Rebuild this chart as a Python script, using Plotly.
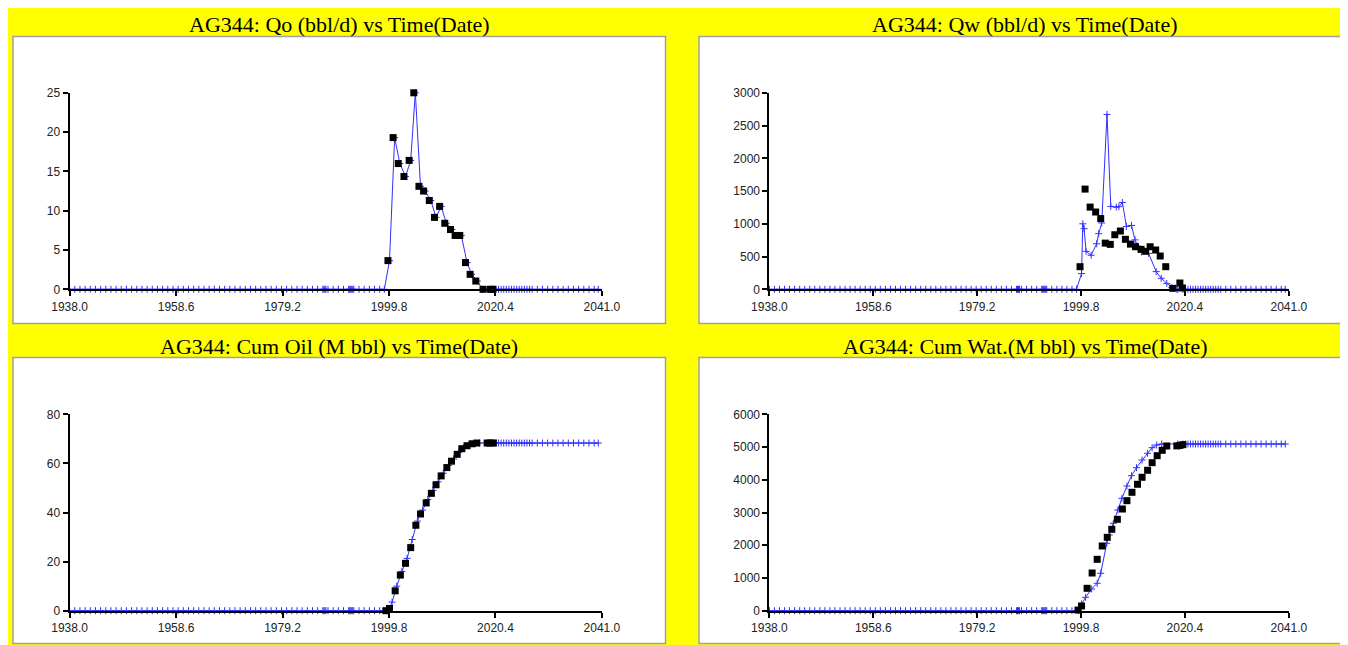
import plotly.graph_objects as go

# the page body keeps its default 8px margin, so the figure starts at (8, 8)
PAGE_OFFSET = 8
W, H = 1348 - PAGE_OFFSET, 645 - PAGE_OFFSET
YELLOW = "#ffff00"
SIM_BLUE = "#3030ff"
BOX_EDGE = "#a0a0a0"
TITLE_FONT = {"family": "Liberation Serif, Times New Roman, serif", "size": 22, "color": "black"}
TICK_FONT = {"family": "Liberation Sans, Arial, sans-serif", "size": 12, "color": "#222222"}

X_TICKS = [1938.0, 1958.6, 1979.2, 1999.8, 2020.4, 2041.0]
X_LABELS = ["1938.0", "1958.6", "1979.2", "1999.8", "2020.4", "2041.0"]

# simulation output before production starts (all zero) and after it ends (flat)
PRE_T = [
    1938, 1939, 1940, 1941, 1942, 1943, 1944, 1945, 1946, 1947, 1948, 1949,
    1950, 1951, 1952, 1953, 1954, 1955, 1956, 1957, 1958, 1959, 1960, 1961,
    1962, 1963, 1964, 1965, 1966, 1967, 1968, 1969, 1970, 1971, 1972, 1973,
    1974, 1975, 1976, 1977, 1978, 1979, 1980, 1981, 1982, 1983, 1984, 1985,
    1986, 1987, 1987.2, 1987.4, 1987.6, 1988, 1989, 1990, 1991, 1992, 1992.2,
    1992.4, 1992.6, 1992.8, 1993, 1994, 1995, 1996, 1997, 1998,
]
POST_T = [
    2019, 2020, 2020.5, 2021, 2021.5, 2022, 2022.5, 2023, 2023.5, 2024, 2024.5,
    2025, 2025.5, 2026, 2026.5, 2027, 2027.5, 2028.5, 2029.5, 2030.5, 2031.5,
    2032.5, 2033.5, 2034.5, 2035.5, 2036.5, 2037.5, 2038.5, 2039.5, 2040.3,
]

# observed (history) data
OBS_RATE_T = [
    1999.6, 2000.6, 2001.6, 2002.7, 2003.7, 2004.6, 2005.6, 2006.5, 2007.6, 2008.6, 2009.6,
    2010.6, 2011.7, 2012.6, 2013.5, 2014.6, 2015.5, 2016.6, 2018.0, 2019.4, 2019.9,
]
OBS_QO = [3.65, 19.3, 16.0, 14.35, 16.4, 25.0, 13.1, 12.5, 11.3, 9.15, 10.55,
          8.4, 7.6, 6.85, 6.85, 3.4, 1.9, 1.05, 0.0, 0.0, 0.0]
OBS_QW = [345, 1530, 1255, 1180, 1080, 705, 686, 833, 890, 763, 690,
          650, 610, 580, 650, 600, 508, 345, 15, 96, 20]

OBS_CUM_T = [
    1999.2, 1999.9, 2001.0, 2002.0, 2003.0, 2004.0, 2005.0, 2005.9, 2007.0, 2008.0, 2008.9,
    2009.9, 2011.0, 2011.9, 2013.0, 2013.9, 2014.9, 2015.9, 2016.8, 2018.8, 2019.4, 2020.0,
]
OBS_CUM_OIL = [0.0, 0.9, 8.1, 14.5, 19.3, 25.7, 34.8, 39.4, 43.9, 47.8, 51.3,
               54.9, 58.3, 60.9, 63.7, 66.0, 67.2, 68.0, 68.3, 68.3, 68.3, 68.3]
OBS_CUM_WAT = [20, 144, 684, 1152, 1570, 1977, 2242, 2487, 2792, 3107, 3361,
               3617, 3862, 4076, 4290, 4522, 4736, 4900, 5032, 5035, 5050, 5072]

# simulated data during the producing period
SIM_QO_T = [1998.9, 1999.9, 2000.9, 2001.9, 2003.0, 2004.0, 2004.9, 2005.9, 2006.8, 2007.9,
            2008.9, 2009.9, 2010.9, 2012.0, 2012.9, 2013.8, 2014.9, 2015.8, 2016.9, 2017.9]
SIM_QO = [0.0, 3.65, 19.3, 16.0, 14.35, 16.4, 25.0, 13.1, 12.5, 11.3,
          9.15, 10.55, 8.4, 7.6, 6.85, 6.85, 3.4, 1.9, 1.05, 0.0]

SIM_QW_T = [1998.9, 1999.9, 2000.15, 2000.4, 2000.8, 2001.8, 2002.9, 2003.3, 2003.9, 2004.95,
            2005.7, 2006.8, 2007.3, 2008.0, 2008.8, 2009.8, 2010.5, 2011.0, 2011.8, 2013.2,
            2014.7, 2015.7, 2016.8, 2017.8, 2018.8]
SIM_QW = [0, 240, 1000, 925, 580, 520, 695, 850, 1012, 2670,
          1265, 1255, 1262, 1325, 960, 975, 755, 660, 570, 548,
          270, 168, 90, 25, 0]

SIM_CUM_OIL_T = [1999.7, 2000.4, 2001.3, 2002.3, 2003.3, 2004.3, 2005.3, 2006.3, 2007.3, 2008.3,
                 2009.3, 2010.3, 2011.3, 2012.3, 2013.3, 2014.3, 2015.3, 2016.3, 2017.3]
SIM_CUM_OIL = [0.0, 3.5, 10.0, 16.0, 21.3, 29.0, 36.5, 41.0, 45.3, 49.0,
               52.5, 56.0, 59.2, 61.8, 64.5, 66.5, 67.6, 68.1, 68.3]

SIM_CUM_WAT_T = [1999.25, 1999.9, 2000.7, 2001.9, 2003.0, 2003.7, 2004.9, 2005.4, 2006.2, 2007.1,
                 2007.9, 2008.9, 2009.8, 2010.8, 2011.9, 2013.0, 2013.9, 2014.8, 2015.8]
SIM_CUM_WAT = [0, 205, 409, 663, 837, 1143, 2059, 2313, 2670, 3077,
               3434, 3810, 4125, 4370, 4604, 4809, 4980, 5062, 5093]

# positions below are screen pixels of the 1348x645 window
PANELS = [
    {"title": "AG344: Qo (bbl/d) vs Time(Date)", "obs_t": OBS_RATE_T, "obs": OBS_QO,
     "sim_t": SIM_QO_T, "sim": SIM_QO, "sim_end": 0.0, "yticks": [0, 5, 10, 15, 20, 25],
     "box": (13, 36.5, 665.5, 323.5), "plot": (69.6, 92.8, 601.9, 289.3), "title_xy": (339.2, 24)},
    {"title": "AG344: Qw (bbl/d) vs Time(Date)", "obs_t": OBS_RATE_T, "obs": OBS_QW,
     "sim_t": SIM_QW_T, "sim": SIM_QW, "sim_end": 0.0,
     "yticks": [0, 500, 1000, 1500, 2000, 2500, 3000],
     "box": (699, 36.5, 1352, 323.5), "plot": (769.4, 92.8, 1288.8, 289.3), "title_xy": (1024.8, 24)},
    {"title": "AG344: Cum Oil (M bbl) vs Time(Date)", "obs_t": OBS_CUM_T, "obs": OBS_CUM_OIL,
     "sim_t": SIM_CUM_OIL_T, "sim": SIM_CUM_OIL, "sim_end": 68.3, "yticks": [0, 20, 40, 60, 80],
     "box": (13, 357.5, 665.5, 643.5), "plot": (69.6, 414.3, 601.9, 610.7), "title_xy": (339.2, 346.5)},
    {"title": "AG344: Cum Wat.(M bbl) vs Time(Date)", "obs_t": OBS_CUM_T, "obs": OBS_CUM_WAT,
     "sim_t": SIM_CUM_WAT_T, "sim": SIM_CUM_WAT, "sim_end": 5093,
     "yticks": [0, 1000, 2000, 3000, 4000, 5000, 6000],
     "box": (699, 357.5, 1352, 643.5), "plot": (769.4, 414.3, 1288.8, 610.7), "title_xy": (1024.8, 346.5)},
]


def px(x: float) -> float:
    return (x - PAGE_OFFSET) / W


def py(y: float) -> float:
    return 1 - (y - PAGE_OFFSET) / H


def add_panel(fig: go.Figure, idx: int, p: dict) -> None:
    suffix = "" if idx == 1 else str(idx)
    ov = idx + 4
    x0, y0, x1, y1 = p["plot"]
    xdom = [px(x0), px(x1)]
    ydom = [py(y1), py(y0)]
    yrange = [0, p["yticks"][-1]]

    sim_x = PRE_T + p["sim_t"] + POST_T
    sim_y = [0.0] * len(PRE_T) + p["sim"] + [p["sim_end"]] * len(POST_T)

    fig.add_trace(go.Scatter(
        x=sim_x, y=sim_y, mode="lines+markers", xaxis=f"x{suffix}", yaxis=f"y{suffix}",
        line={"color": SIM_BLUE, "width": 1},
        marker={"symbol": "cross-thin", "size": 5, "line": {"color": SIM_BLUE, "width": 1}},
        cliponaxis=False, showlegend=False, hoverinfo="skip",
    ))
    fig.add_trace(go.Scatter(
        x=p["obs_t"], y=p["obs"], mode="markers", xaxis=f"x{suffix}", yaxis=f"y{suffix}",
        marker={"symbol": "square", "size": 7, "color": "black"},
        cliponaxis=False, showlegend=False, hoverinfo="skip",
    ))

    axis_common = {"showgrid": False, "zeroline": False, "fixedrange": True, "automargin": False,
                   "tickwidth": 2, "tickcolor": "black", "ticklen": 5}
    fig.layout[f"xaxis{suffix}"] = dict(
        axis_common, domain=xdom, range=[1938, 2041], anchor=f"y{suffix}",
        tickmode="array", tickvals=X_TICKS, ticktext=X_LABELS, ticks="outside",
        showline=True, linecolor="black", linewidth=2, tickfont=TICK_FONT,
    )
    fig.layout[f"yaxis{suffix}"] = dict(
        axis_common, domain=ydom, range=yrange, anchor=f"x{suffix}",
        tickmode="array", tickvals=p["yticks"], ticks="outside",
        showline=True, linecolor="black", linewidth=2, tickfont=TICK_FONT,
    )
    # second set of ticks pointing inward, so the marks cross the axis lines
    fig.layout[f"xaxis{ov}"] = dict(
        axis_common, domain=xdom, range=[1938, 2041], anchor=f"y{suffix}",
        overlaying=f"x{suffix}", tickmode="array", tickvals=X_TICKS, ticks="inside",
        showticklabels=False, showline=False,
    )
    fig.layout[f"yaxis{ov}"] = dict(
        axis_common, domain=ydom, range=yrange, anchor=f"x{suffix}",
        overlaying=f"y{suffix}", tickmode="array", tickvals=p["yticks"], ticks="inside",
        showticklabels=False, showline=False,
    )

    bx0, by0, bx1, by1 = p["box"]
    fig.add_shape(type="rect", xref="paper", yref="paper", layer="below",
                  x0=px(bx0), x1=px(bx1), y0=py(by1), y1=py(by0),
                  fillcolor="white", line={"color": BOX_EDGE, "width": 1.5})
    tx, ty = p["title_xy"]
    fig.add_annotation(text=p["title"], xref="paper", yref="paper", x=px(tx), y=py(ty),
                       xanchor="center", yanchor="middle", showarrow=False, font=TITLE_FONT)


fig = go.Figure()
for i, panel in enumerate(PANELS, start=1):
    add_panel(fig, i, panel)

fig.update_layout(
    template="none", width=W, height=H, margin={"l": 0, "r": 0, "t": 0, "b": 0, "pad": 0},
    paper_bgcolor=YELLOW, plot_bgcolor="rgba(0,0,0,0)", showlegend=False,
)
fig.write_html("out.html")
